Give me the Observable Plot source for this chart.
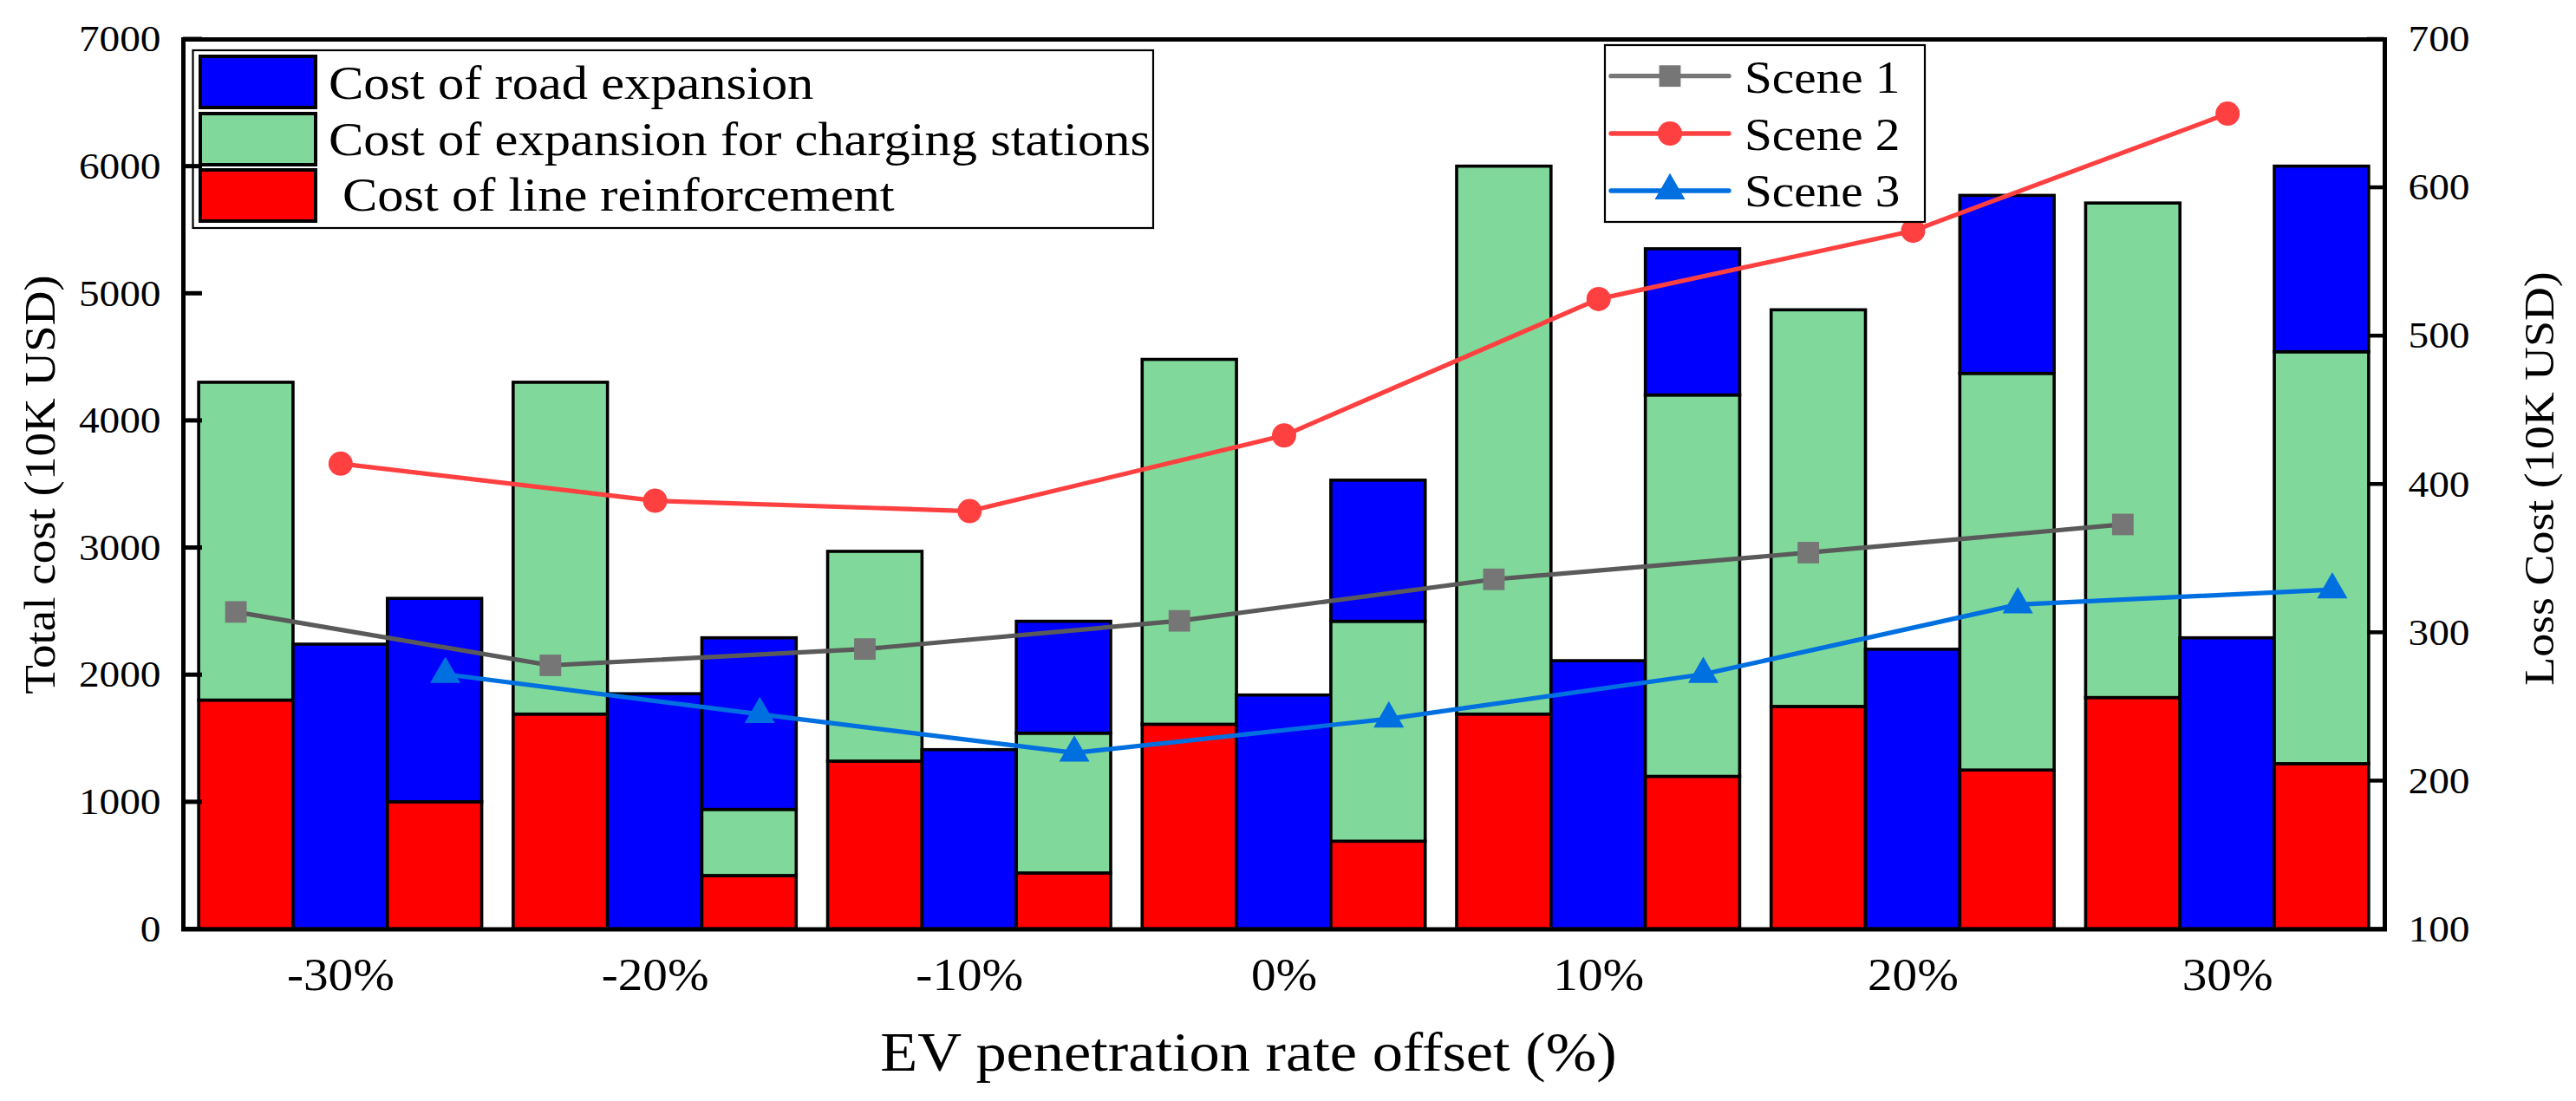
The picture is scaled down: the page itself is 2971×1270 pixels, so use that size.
<!DOCTYPE html>
<html>
<head>
<meta charset="utf-8">
<script src="https://cdn.jsdelivr.net/npm/d3@7"></script>
<script src="https://cdn.jsdelivr.net/npm/@observablehq/plot@0.6"></script>
<style>
  html, body { margin: 0; padding: 0; background: #fff; }
  #chart svg { display: block; }
</style>
</head>
<body>
<div id="chart"></div>
<script>
// ---------- data ----------
const groups = [-30, -20, -10, 0, 10, 20, 30];
const groupLabels = ["-30%", "-20%", "-10%", "0%", "10%", "20%", "30%"];

// Scene 1 bar (left of each group): line reinforcement + charging-station expansion
const s1Line     = [1800, 1690, 1320, 1610, 1690, 1750, 1820];
const s1Charging = [2500, 2610, 1650, 2870, 4310, 3120, 3890];
// Scene 2 bar (middle): road expansion
const s2Road     = [2240, 1850, 1410, 1840, 2110, 2200, 2290];
// Scene 3 bar (right): line reinforcement + charging-station expansion + road expansion
const s3Line     = [1000, 420, 440, 690, 1200, 1250, 1300];
const s3Charging = [0, 520, 1100, 1730, 3000, 3120, 3240];
const s3Road     = [1600, 1350, 880, 1110, 1150, 1400, 1460];

// Loss cost (right axis, 10K USD)
const lossScene1 = [314, 278, 289, 308, 336, 354, 373];
const lossScene2 = [414, 389, 382, 433, 525, 571, 650];
const lossScene3 = [272, 245, 219, 242, 272, 319, 329];

const leftTicks  = [0, 1000, 2000, 3000, 4000, 5000, 6000, 7000];
const rightTicks = [100, 200, 300, 400, 500, 600, 700];

const barLegend = ["Cost of road expansion", "Cost of expansion for charging stations", "Cost of line reinforcement"];
const sceneNames = ["Scene 1", "Scene 2", "Scene 3"];
const xTitle = "EV penetration rate offset (%)";
const yTitleLeft = "Total cost (10K USD)";
const yTitleRight = "Loss Cost (10K USD)";

// ---------- styling / layout ----------
const FONT = "'Liberation Serif','Times New Roman',Times,serif";
const W = 2971, H = 1270;
const M = {left: 211, right: 221, top: 45, bottom: 198.5};
const BAR_W = 3, SLOT0 = -4.5, MARK_OFF = 3.33;
const kinds = ["road", "charging", "line"];
const kindColors = ["#0000FF", "#80D89A", "#FF0000"];
const sceneLine = ["#5A5A5A", "#FF4040", "#0070E0"];
const sceneMark = ["#767676", "#FF4040", "#0070E0"];

// right-axis (loss) values mapped onto the left-axis domain
const LOSS_MIN = 100, LOSS_MAX = 700, Y_MAX = 7000;
const toY = v => (v - LOSS_MIN) * Y_MAX / (LOSS_MAX - LOSS_MIN);
const fromY = y => y * (LOSS_MAX - LOSS_MIN) / Y_MAX + LOSS_MIN;

// build stacked segments
const segs = [];
groups.forEach((g, i) => {
  const stack = (slot, parts) => {
    let base = 0;
    for (const [kind, v] of parts) {
      if (v > 0) segs.push({g, slot, kind, y1: base, y2: base + v});
      base += v;
    }
  };
  stack(0, [["line", s1Line[i]], ["charging", s1Charging[i]]]);
  stack(1, [["road", s2Road[i]]]);
  stack(2, [["line", s3Line[i]], ["charging", s3Charging[i]], ["road", s3Road[i]]]);
});

const lossSeries = [lossScene1, lossScene2, lossScene3].map((arr, s) =>
  groups.map((g, i) => ({g, v: arr[i], off: (s - 1) * MARK_OFF})));
const symbols = ["square", "circle", "triangle"];
const symR = [14, 14, 13];

const marks = [
  Plot.rect(segs, {
    x1: d => d.g + SLOT0 + d.slot * BAR_W,
    x2: d => d.g + SLOT0 + (d.slot + 1) * BAR_W,
    y1: "y1", y2: "y2",
    fill: "kind",
    stroke: "black", strokeWidth: 3.6
  })
];
lossSeries.forEach((data, s) => {
  marks.push(Plot.line(data, {x: d => d.g + d.off, y: d => toY(d.v), stroke: sceneLine[s], strokeWidth: 5.2}));
});
lossSeries.forEach((data, s) => {
  marks.push(Plot.dot(data, {x: d => d.g + d.off, y: d => toY(d.v), symbol: symbols[s], r: symR[s], fill: sceneMark[s], stroke: "none"}));
});
marks.push(
  Plot.frame({stroke: "black", strokeWidth: 5}),
  Plot.axisX({ticks: groups, tickSize: 0, tickPadding: 33, tickFormat: d => groupLabels[groups.indexOf(d)], fontSize: 52, label: null}),
  Plot.axisY({anchor: "left", ticks: leftTicks, tickSize: 0, tickPadding: 26, tickFormat: d => String(d), fontSize: 43, label: null}),
  Plot.axisY({anchor: "right", ticks: rightTicks.map(toY), tickSize: 0, tickPadding: 27, tickFormat: d => String(Math.round(fromY(d))), fontSize: 43, label: null})
);

const svg = Plot.plot({
  width: W, height: H,
  marginLeft: M.left, marginRight: M.right, marginTop: M.top, marginBottom: M.bottom,
  style: {fontFamily: FONT, background: "#fff", color: "black", overflow: "visible"},
  x: {domain: [-35, 35]},
  y: {domain: [0, 7000]},
  color: {domain: kinds, range: kindColors},
  marks
});

// ---------- titles, legends, inward ticks ----------
const yScale = svg.scale("y");
const root = d3.select(svg);
const deco = root.append("g").attr("class", "deco").attr("font-family", FONT).attr("fill", "black");

deco.append("text").attr("transform", "translate(1440,1235)").attr("text-anchor", "middle")
  .attr("font-size", 64).text(xTitle);
deco.append("text").attr("transform", "translate(62.5,559) rotate(-90)").attr("text-anchor", "middle")
  .attr("font-size", 50).text(yTitleLeft);
deco.append("text").attr("transform", "translate(2945,552) rotate(-90)").attr("text-anchor", "middle")
  .attr("font-size", 49).text(yTitleRight);

// bar legend
const lg1 = deco.append("g");
lg1.append("rect").attr("x", 222.5).attr("y", 58).attr("width", 1107.5).attr("height", 205)
  .attr("fill", "white").attr("stroke", "black").attr("stroke-width", 2.2);
const swY = [65, 131, 196], txY = [114, 179, 243], txX = [379, 379, 395];
barLegend.forEach((lab, i) => {
  lg1.append("rect").attr("x", 231).attr("y", swY[i]).attr("width", 133).attr("height", 59)
    .attr("fill", kindColors[i]).attr("stroke", "black").attr("stroke-width", 4);
  lg1.append("text").attr("transform", `translate(${txX[i]},${txY[i]})`).attr("text-anchor", "start")
    .attr("font-size", 55).text(lab);
});

// line legend
const lg2 = deco.append("g");
lg2.append("rect").attr("x", 1851).attr("y", 52).attr("width", 369).attr("height", 204)
  .attr("fill", "white").attr("stroke", "black").attr("stroke-width", 2.2);
const rowY = [87.7, 154, 220], rowBase = [107.3, 172.7, 238.3];
const legLine = ["#777777", "#FF4040", "#0070E0"];
sceneNames.forEach((nm, i) => {
  lg2.append("line").attr("x1", 1858).attr("x2", 1994).attr("y1", rowY[i]).attr("y2", rowY[i])
    .attr("stroke", legLine[i]).attr("stroke-width", 5.3).attr("stroke-linecap", "round");
  const sym = [d3.symbolSquare, d3.symbolCircle, d3.symbolTriangle][i];
  lg2.append("path").attr("transform", `translate(1926,${rowY[i]})`)
    .attr("d", d3.symbol(sym, Math.PI * symR[i] * symR[i])())
    .attr("fill", sceneMark[i]);
  lg2.append("text").attr("transform", `translate(2012,${rowBase[i]})`).attr("text-anchor", "start")
    .attr("font-size", 52).text(nm);
});

// inward axis ticks (drawn last, over the legend as in the reference), positioned by Plot's y scale
const tickG = deco.append("g").attr("stroke", "black");
leftTicks.forEach(v => {
  const y = yScale.apply(v);
  tickG.append("line").attr("x1", M.left).attr("x2", M.left + 22).attr("y1", y).attr("y2", y).attr("stroke-width", 5);
});
rightTicks.forEach(v => {
  const y = yScale.apply(toY(v));
  tickG.append("line").attr("x1", W - M.right - 20).attr("x2", W - M.right).attr("y1", y).attr("y2", y).attr("stroke-width", 4.5);
});

// the reference typeface is somewhat wider than Times: stretch glyphs along the text direction
const SX = 1.1;
svg.querySelectorAll("text").forEach(t => {
  const x = parseFloat(t.getAttribute("x")) || 0;
  const tr = t.getAttribute("transform") || "";
  t.setAttribute("transform", `${tr} translate(${x},0) scale(${SX},1) translate(${-x},0)`);
});

document.getElementById("chart").appendChild(svg);
</script>
</body>
</html>
